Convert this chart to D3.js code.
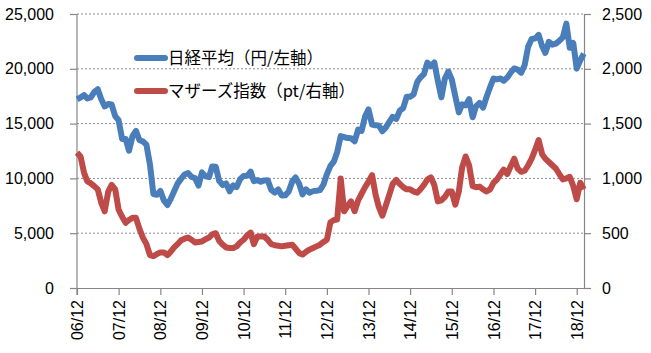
<!DOCTYPE html>
<html>
<head>
<meta charset="utf-8">
<script src="https://cdn.jsdelivr.net/npm/d3@7"></script>
<style>
  body { margin: 0; background: #fff; }
  .tick text { font-family: "Liberation Sans", Arial, sans-serif; font-size: 16px; fill: #000; }
</style>
</head>
<body>
<div id="chart"></div>
<script>
// monthly values, first point = 2006/12
var startMonth = '2006-12';
var nikkei = [
  17226,
  17383, 17604, 17288, 17400, 17875, 18138, 17248, 16569, 16785, 16737, 15680, 15307,
  13592, 13603, 12525, 13849, 14338, 13481, 13376, 13072, 11259, 8576, 8512, 8859,
  7994, 7568, 8109, 8828, 9522, 9958, 10356, 10492, 10133, 10034, 9345, 10546,
  10198, 10126, 11089, 11057, 9768, 9382, 9537, 8824, 9369, 9202, 9937, 10228,
  10237, 10624, 9755, 9849, 9693, 9816, 9833, 8955, 8700, 8988, 8434, 8455,
  8802, 9723, 10083, 9520, 8542, 9006, 8695, 8839, 8870, 8928, 9446, 10395,
  11138, 11559, 12397, 13860, 13774, 13677, 13668, 13388, 14455, 14327, 15662, 16291,
  14914, 14841, 14827, 14304, 14632, 15162, 15621, 15425, 16173, 16414, 17460, 17451,
  17674, 18798, 19207, 19520, 20563, 20236, 20585, 18890, 17388, 19083, 19747, 19034,
  17518, 16027, 16759, 16666, 17235, 15576, 16569, 16887, 16450, 17425, 18308, 19114,
  19041, 19119, 18909, 19197, 19651, 20033, 19925, 19646, 20356, 22012, 22725, 22765,
  23098, 22068, 21454, 22468, 22202, 22305, 22554, 22865, 24120, 21920, 22351, 20015,
  20773, 21385
];
var mothers = [
  1235,
  1200, 1050, 975, 955, 930, 900, 780, 700, 880, 940, 900, 715,
  650, 595, 620, 640, 640, 540, 460, 400, 300, 290, 310, 325,
  325, 300, 330, 370, 400, 435, 450, 460, 440, 415, 420, 425,
  445, 460, 490, 500, 430, 395, 370, 365, 365, 380, 415, 440,
  480, 505, 400, 470, 470, 470, 440, 400, 390, 385, 380, 385,
  390, 395, 360, 320, 305, 330, 350, 365, 380, 395, 420, 440,
  600, 620, 625, 1000, 700, 750, 790, 700, 800, 860, 920, 970,
  1030, 850, 740, 660, 750, 850, 950, 985, 950, 920, 900, 900,
  880, 870, 900, 940, 990, 1010, 940, 790, 800, 830, 880, 880,
  760, 880, 1100, 1200, 1120, 930, 920, 925, 900, 880, 900, 960,
  990, 1040, 1080, 1040, 1110, 1180, 1090, 1060, 1070, 1120, 1180, 1260,
  1350, 1220, 1180, 1150, 1120, 1090, 1040, 990, 1000, 1015, 930, 810,
  960, 900
];
var leftTicks = [0, 5000, 10000, 15000, 20000, 25000];
var rightTicks = [0, 500, 1000, 1500, 2000, 2500];
var xTickYears = [2006, 2007, 2008, 2009, 2010, 2011, 2012, 2013, 2014, 2015, 2016, 2017, 2018];
var legendLabels = ['日経平均（円/左軸）', 'マザーズ指数（pt/右軸）'];
var colors = ['#4a7ebb', '#be4b48'];

var margin = {top: 14, right: 67, bottom: 65, left: 77},
  width = 651 - margin.left - margin.right,
  height = 353 - margin.top - margin.bottom;

var svg = d3.select('#chart').append('svg')
  .attr('width', 651).attr('height', 353)
  .append('g')
  .attr('transform', 'translate(' + margin.left + ',' + margin.top + ')');

var parse = d3.timeParse('%Y-%m');
var t0 = parse(startMonth);
var dates = d3.timeMonth.range(t0, d3.timeMonth.offset(t0, nikkei.length));

var x = d3.scaleTime()
  .domain([t0, new Date(2019, 1, 3)])
  .range([0, width]);
var yL = d3.scaleLinear().domain([0, 25000]).range([height, 0]);
var yR = d3.scaleLinear().domain([0, 2500]).range([height, 0]);

// gridlines
svg.append('g').selectAll('line')
  .data(leftTicks.slice(1))
  .enter().append('line')
  .attr('x1', 0).attr('x2', width)
  .attr('y1', function (d) { return yL(d); })
  .attr('y2', function (d) { return yL(d); })
  .attr('stroke', '#8c8c8c')
  .attr('stroke-dasharray', '2,2');

// axes
var axL = svg.append('g')
  .call(d3.axisLeft(yL).tickValues(leftTicks).tickFormat(d3.format(',')).tickSize(7).tickPadding(16));
var axR = svg.append('g')
  .attr('transform', 'translate(' + width + ',0)')
  .call(d3.axisRight(yR).tickValues(rightTicks).tickFormat(d3.format(',')).tickSize(7).tickPadding(11));
var axB = svg.append('g')
  .attr('transform', 'translate(0,' + height + ')')
  .call(d3.axisBottom(x)
    .tickValues(xTickYears.map(function (y) { return new Date(y, 11, 1); }))
    .tickFormat(d3.timeFormat('%y/%m'))
    .tickSize(7).tickSizeOuter(0));
axB.selectAll('text')
  .attr('transform', 'rotate(-90)')
  .attr('text-anchor', 'end')
  .attr('x', -12).attr('y', 0).attr('dy', '0.35em');

[axL, axR, axB].forEach(function (a) {
  a.selectAll('.domain').attr('stroke', '#868686').attr('stroke-width', 1.2);
  a.selectAll('.tick line').attr('stroke', '#868686').attr('stroke-width', 1.2);
});
axL.select('.domain').attr('d', 'M0,0V' + (height + 7));

// lines
var lineL = d3.line()
  .x(function (d, i) { return x(dates[i]); })
  .y(function (d) { return yL(d); });
var lineR = d3.line()
  .x(function (d, i) { return x(dates[i]); })
  .y(function (d) { return yR(d); });

svg.append('path').datum(nikkei)
  .attr('d', lineL).attr('fill', 'none')
  .attr('stroke', colors[0]).attr('stroke-width', 6)
  .attr('stroke-linejoin', 'round');
svg.append('path').datum(mothers)
  .attr('d', lineR).attr('fill', 'none')
  .attr('stroke', colors[1]).attr('stroke-width', 6)
  .attr('stroke-linejoin', 'round');

// legend
var legend = svg.append('g').attr('transform', 'translate(60,44)');
legendLabels.forEach(function (lab, i) {
  legend.append('line')
    .attr('x1', 0).attr('x2', 28)
    .attr('y1', i * 33).attr('y2', i * 33)
    .attr('stroke', colors[i]).attr('stroke-width', 6)
    .attr('stroke-linecap', 'round');
  legend.append('text')
    .attr('x', 31).attr('y', i * 33).attr('dy', '0.36em')
    .style('font-family', '"Noto Sans CJK JP", sans-serif')
    .style('font-size', '16.5px')
    .text(lab);
});
</script>
</body>
</html>
